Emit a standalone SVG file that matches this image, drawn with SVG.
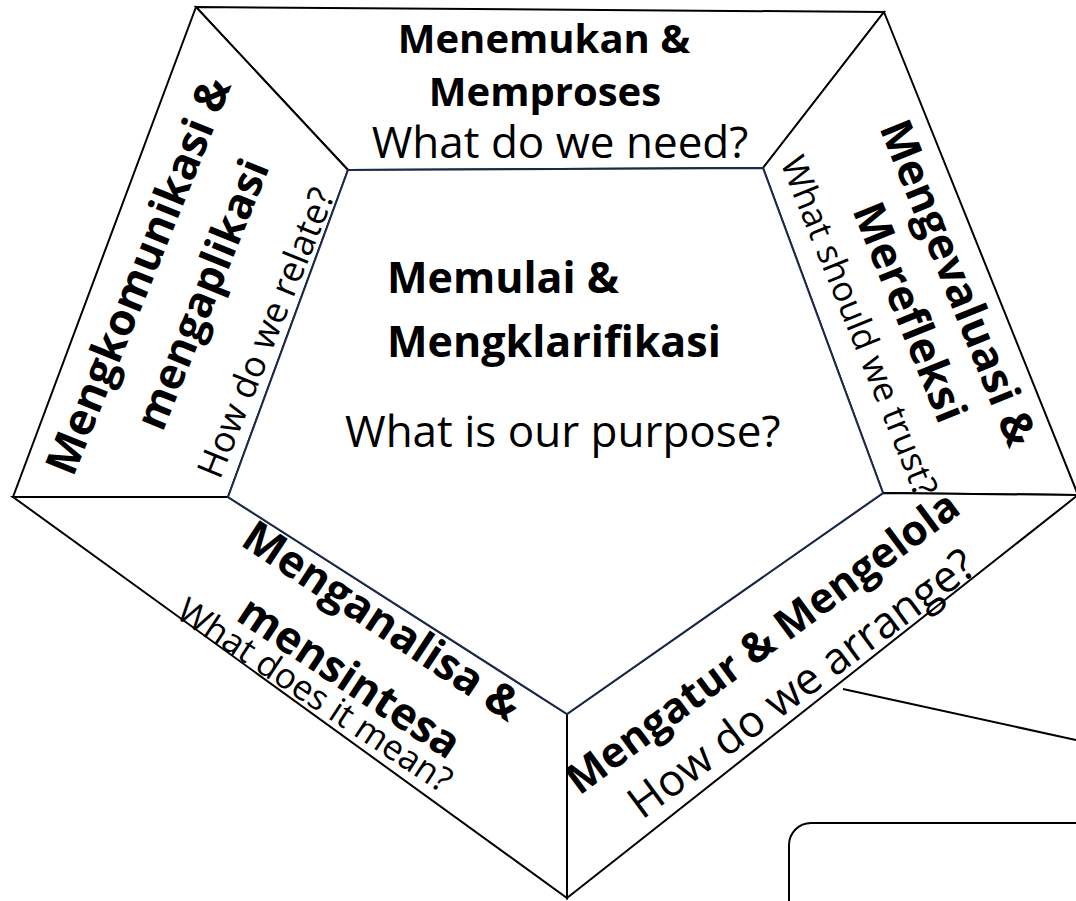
<svg xmlns="http://www.w3.org/2000/svg" width="1076" height="901" viewBox="0 0 1076 901">
<style>
.face{fill:#ffffff;stroke:#000000;stroke-width:2;stroke-linejoin:miter}
.inner{fill:#ffffff;stroke:#1b2a4a;stroke-width:2}
.b{font-family:"Open Sans","Noto Sans","Liberation Sans",sans-serif;font-weight:700;fill:#000}
.r{font-family:"Open Sans","Noto Sans","Liberation Sans",sans-serif;font-weight:400;fill:#000}
.line{fill:none;stroke:#000;stroke-width:2}
</style>
<rect width="1076" height="901" fill="#ffffff"/>

<g id="node-top">
<polygon class="face" points="196,7 884,12 763,168 348,170"/>
<text class="b" font-size="40" x="544" y="53" text-anchor="middle">Menemukan &amp;</text>
<text class="b" font-size="40" x="545" y="106" text-anchor="middle">Memproses</text>
<text class="r" font-size="44" x="560" y="158" text-anchor="middle">What do we need?</text>
</g>

<g id="node-right">
<polygon class="face" points="884,12 1078,495 883,493 763,168"/>
<g transform="translate(959,282.5) rotate(68)">
<text class="b" font-size="44" x="0" y="16" text-anchor="middle">Mengevaluasi &amp;</text>
<text class="b" font-size="44" x="9" y="72" text-anchor="middle">Merefleksi</text>
<text class="r" font-size="35" x="3" y="121" text-anchor="middle">What should we trust?</text>
</g>
</g>

<g id="node-bottom-right">
<polygon class="face" points="883,493 1078,495 567,898 567,714"/>
<g transform="translate(762,642) rotate(-36.5)">
<text class="b" font-size="42" x="0" y="15" text-anchor="middle">Mengatur &amp; Mengelola</text>
<text class="r" font-size="44" x="7" y="72" text-anchor="middle">How do we arrange?</text>
</g>
</g>

<g id="node-bottom-left">
<polygon class="face" points="228,497 567,714 567,898 13,497"/>
<g transform="translate(382,621) rotate(33.5)">
<text class="b" font-size="44" x="0" y="15" text-anchor="middle">Menganalisa &amp;</text>
<text class="b" font-size="44" x="4" y="80" text-anchor="middle">mensintesa</text>
<text class="r" font-size="35" x="-15" y="111" text-anchor="middle">What does it mean?</text>
</g>
</g>

<g id="node-left">
<polygon class="face" points="13,497 196,7 348,170 228,497"/>
<g transform="translate(137.5,275.5) rotate(-68)">
<text class="b" font-size="44" x="0" y="16" text-anchor="middle">Mengkomunikasi &amp;</text>
<text class="b" font-size="43" x="7" y="82" text-anchor="middle">mengaplikasi</text>
<text class="r" font-size="36" x="-5" y="153" text-anchor="middle">How do we relate?</text>
</g>
</g>

<g id="node-center">
<polygon class="inner" points="348,170 763,168 883,493 567,714 228,497"/>
<text class="b" font-size="43" x="387" y="293">Memulai &amp;</text>
<text class="b" font-size="43" x="387" y="357">Mengklarifikasi</text>
<text class="r" font-size="44" x="345" y="447">What is our purpose?</text>
</g>

<g id="node-callout">
<rect x="789" y="823" width="400" height="200" rx="22" ry="22" fill="#ffffff" stroke="#000" stroke-width="2"/>
</g>

<g id="connectors">
<line class="line" x1="843" y1="689" x2="1076" y2="740"/>
</g>
</svg>
